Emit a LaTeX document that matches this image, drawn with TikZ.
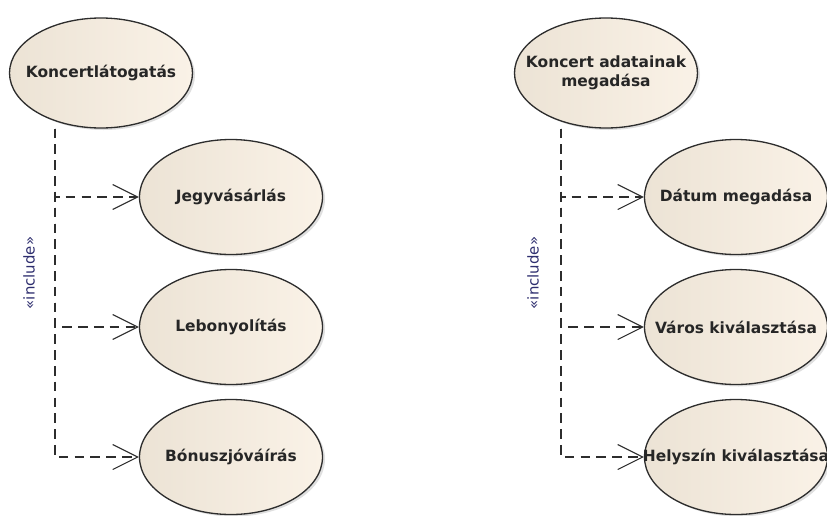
\documentclass[tikz,border=0pt]{standalone}
\usepackage{fontspec}
\setmainfont{DejaVu Sans}
\usepackage{xcolor}
\usepackage{tikz}
\usetikzlibrary{arrows.meta,shapes.geometric,shadows}

\definecolor{ucleft}{RGB}{236,227,213}
\definecolor{ucright}{RGB}{250,242,231}
\definecolor{ucline}{RGB}{45,45,45}
\definecolor{stereo}{RGB}{45,45,110}

\tikzset{
  usecase/.style={ellipse, draw=ucline, line width=0.75pt,
    left color=ucleft, right color=ucright,
    minimum width=3.66cm, minimum height=2.3cm,
    inner xsep=-0.6cm, inner ysep=0pt, align=center,
    text=black!85, font=\fontsize{8.8}{11}\selectfont\bfseries,
    drop shadow={shadow xshift=0.05cm, shadow yshift=-0.04cm, opacity=0.25}},
  incl/.style={draw=ucline, line width=0.6pt, dash pattern=on 5.5pt off 3.5pt,
    -{Straight Barb[length=0.5cm,width=0.5cm]}},
  stereotype/.style={rotate=90, text=stereo, font=\fontsize{8.5}{10}\selectfont}
}

\begin{document}
\begin{tikzpicture}
    \useasboundingbox (0,0) rectangle (16.54,-10.30);

    % Left group
    \node[usecase, minimum height=2.2cm] (latogatas) at (2.02,-1.46) {Koncertlátogatás};
    \node[usecase] (jegy) at (4.62,-3.94) {Jegyvásárlás};
    \node[usecase] (lebony) at (4.62,-6.54) {Lebonyolítás};
    \node[usecase] (bonusz) at (4.62,-9.14) {Bónuszjóváírás};

    \coordinate (trunkL) at ([xshift=-0.92cm]latogatas.south);
    \draw[incl] (trunkL) |- (jegy.west);
    \draw[incl] (trunkL) |- (lebony.west);
    \draw[incl] (trunkL) |- (bonusz.west);
    \node[stereotype] (inclL) at (0.58,-5.46) {«include»};

    % Right group
    \node[usecase, minimum height=2.2cm] (adatok) at (12.12,-1.46) {Koncert adatainak\\megadása};
    \node[usecase] (datum) at (14.72,-3.94) {Dátum megadása};
    \node[usecase] (varos) at (14.72,-6.54) {Város kiválasztása};
    \node[usecase] (helyszin) at (14.72,-9.14) {Helyszín kiválasztása};

    \coordinate (trunkR) at ([xshift=-0.90cm]adatok.south);
    \draw[incl] (trunkR) |- (datum.west);
    \draw[incl] (trunkR) |- (varos.west);
    \draw[incl] (trunkR) |- (helyszin.west);
    \node[stereotype] (inclR) at (10.66,-5.46) {«include»};
\end{tikzpicture}
\end{document}
